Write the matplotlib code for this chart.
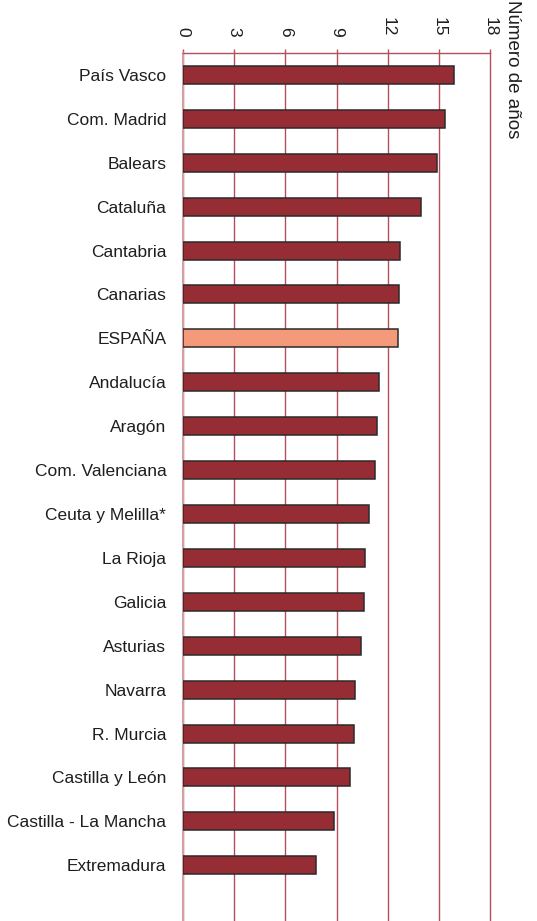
import matplotlib.pyplot as plt

plt.rcParams['font.family'] = ['Liberation Sans', 'DejaVu Sans']

regiones = ["País Vasco", "Com. Madrid", "Balears", "Cataluña", "Cantabria",
            "Canarias", "ESPAÑA", "Andalucía", "Aragón", "Com. Valenciana",
            "Ceuta y Melilla*", "La Rioja", "Galicia", "Asturias", "Navarra",
            "R. Murcia", "Castilla y León", "Castilla - La Mancha", "Extremadura"]
anios = [15.86, 15.34, 14.92, 13.93, 12.72, 12.66, 12.58, 11.47, 11.35, 11.23,
         10.90, 10.69, 10.61, 10.43, 10.10, 10.02, 9.79, 8.87, 7.80]
ticks = [0, 3, 6, 9, 12, 15, 18]

grid_col = "#b3505c"
colores = ["#f4997a" if r == "ESPAÑA" else "#962d35" for r in regiones]

fig = plt.figure(figsize=(5.37, 9.21), dpi=100)
ax = fig.add_axes([183/537, 0.0, 307/537, 1 - 53/921])

pos = list(range(len(regiones)))
ax.barh(pos, anios, height=0.41, color=colores, edgecolor="#2a2a2a", linewidth=1.1, zorder=3)

ax.set_xlim(0, 18)
ax.set_ylim(len(regiones) + 0.27, -0.5)
ax.set_yticks(pos)
ax.set_yticklabels(regiones, fontsize=12.5, color="#1e1e1e")
ax.tick_params(axis="y", length=0, pad=12)

ax.xaxis.tick_top()
ax.set_xticks(ticks)
ax.set_xticklabels([str(t) for t in ticks], rotation=-90, fontsize=12.5, color="#1e1e1e")
ax.tick_params(axis="x", length=3, color=grid_col, width=1, pad=9)
for t in ticks:
    ax.axvline(t, color=grid_col, lw=1, zorder=1, clip_on=False)

for s in ["right", "bottom"]:
    ax.spines[s].set_visible(False)
ax.spines["left"].set_color("#d3a0a6")
ax.spines["left"].set_linewidth(1.5)
ax.spines["top"].set_color(grid_col)
ax.spines["top"].set_linewidth(1)

fig.text(513/537, 1.0, "Número de años", rotation=-90, ha="center", va="top",
         fontsize=13.5, color="#1e1e1e")

fig.savefig("out.png", dpi=100)
